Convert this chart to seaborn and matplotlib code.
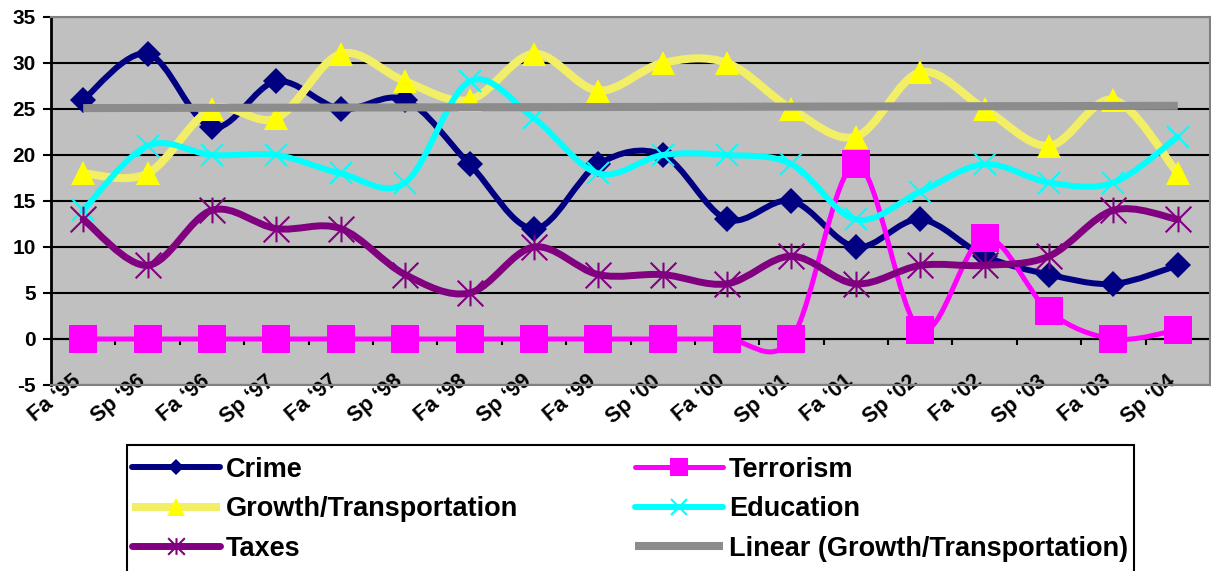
import numpy as np
import matplotlib
matplotlib.use("Agg")
import matplotlib.pyplot as plt
import seaborn as sns
from matplotlib.path import Path
from matplotlib.patches import PathPatch, Rectangle
from matplotlib.lines import Line2D
import matplotlib.transforms as mtransforms

# ---------------- data ----------------
categories = ["Fa \u201895", "Sp \u201896", "Fa \u201896", "Sp \u201897", "Fa \u201897", "Sp \u201898",
              "Fa \u201898", "Sp \u201899", "Fa \u201899", "Sp \u201800", "Fa \u201800", "Sp \u201801",
              "Fa \u201801", "Sp \u201802", "Fa \u201802", "Sp \u201803", "Fa \u201803", "Sp \u201804"]
crime = [26, 31, 23, 28, 25, 26, 19, 12, 19, 20, 13, 15, 10, 13, 9, 7, 6, 8]
terrorism = [0, 0, 0, 0, 0, 0, 0, 0, 0, 0, 0, 0, 19, 1, 11, 3, 0, 1]
growth = [18, 18, 25, 24, 31, 28, 26, 31, 27, 30, 30, 25, 22, 29, 25, 21, 26, 18]
education = [14, 21, 20, 20, 18, 17, 28, 24, 18, 20, 20, 19, 13, 16, 19, 17, 17, 22]
taxes = [13, 8, 14, 12, 12, 7, 5, 10, 7, 7, 6, 9, 6, 8, 8, 9, 14, 13]
y_ticks = [-5, 0, 5, 10, 15, 20, 25, 30, 35]
series_names = ["Crime", "Terrorism", "Growth/Transportation", "Education", "Taxes"]
trend_name = "Linear (Growth/Transportation)"

# ---------------- style ----------------
sns.set_theme(style="white")
plt.rcParams["font.family"] = ["Liberation Sans", "DejaVu Sans"]
plt.rcParams["font.weight"] = "bold"
plt.rcParams["axes.unicode_minus"] = False
for key in ["text.color", "axes.labelcolor", "xtick.color", "ytick.color"]:
    plt.rcParams[key] = "black"

star = Path([(0, -1), (0, 1), (-1, -1), (1, 1), (-1, 1), (1, -1)],
            [Path.MOVETO, Path.LINETO, Path.MOVETO, Path.LINETO, Path.MOVETO, Path.LINETO])

styles = {
    "Crime": dict(color="#000080", lw=4.3, marker="D", ms=13.5, mew=0, filled=True, cap="round"),
    "Terrorism": dict(color="#FF00FF", lw=3.6, marker="s", ms=19.5, mew=0, filled=True, cap="round"),
    "Growth/Transportation": dict(color="#F2EF66", mcolor="#FFFF00", lw=5.8, marker="^", ms=17.5, mew=0,
                                  filled=True, cap="butt"),
    "Education": dict(color="#00FFFF", lw=4.3, marker="x", ms=16.5, mew=1.5, filled=False, cap="round"),
    "Taxes": dict(color="#800080", lw=5.0, marker=star, ms=18.5, mew=1.5, filled=False, cap="round"),
}
legend_ms = {"Crime": 8, "Terrorism": 13, "Growth/Transportation": 13, "Education": 11, "Taxes": 12}
values = {"Crime": crime, "Terrorism": terrorism, "Growth/Transportation": growth,
          "Education": education, "Taxes": taxes}


def smooth_path(xs, ys):
    pts = np.column_stack([xs, ys]).astype(float)
    n = len(pts)
    verts = [pts[0]]
    codes = [Path.MOVETO]
    for i in range(n - 1):
        p0 = pts[i - 1] if i > 0 else pts[i]
        p1 = pts[i]
        p2 = pts[i + 1]
        p3 = pts[i + 2] if i + 2 < n else pts[i + 1]
        verts += [p1 + (p2 - p0) / 6.0, p2 - (p3 - p1) / 6.0, p2]
        codes += [Path.CURVE4] * 3
    return Path(verts, codes)


fig = plt.figure(figsize=(12.11, 5.71), dpi=100)
W, H = 1211, 571
ax = fig.add_axes([51 / W, 1 - 385 / H, (1210 - 51) / W, (385 - 17) / H])
ax.set_facecolor("#C0C0C0")

xs = np.arange(len(categories))

for k, name in enumerate(series_names):
    st = styles[name]
    z = 3 + k
    patch = PathPatch(smooth_path(xs, values[name]), facecolor="none", edgecolor=st["color"],
                      lw=st["lw"], capstyle=st["cap"], joinstyle="round", zorder=z)
    ax.add_patch(patch)
    mc = st.get("mcolor", st["color"])
    sns.lineplot(x=xs, y=values[name], ax=ax, linestyle="none", marker=st["marker"],
                 markersize=st["ms"], markerfacecolor=mc if st["filled"] else "none",
                 markeredgecolor=mc, markeredgewidth=st["mew"] if not st["filled"] else 0,
                 color=mc, zorder=z + 0.5, legend=False)

# linear trendline of Growth/Transportation
coef = np.polyfit(xs, growth, 1)
trend = np.polyval(coef, xs)
sns.lineplot(x=xs, y=trend, ax=ax, color="#8C8C8C", lw=5.8, solid_capstyle="butt",
             zorder=9, legend=False)

# axes
ax.set_xlim(-0.5, len(categories) - 0.5)
ax.set_ylim(-5, 35)
ax.set_yticks(y_ticks)
ax.set_yticklabels([str(v) for v in y_ticks], fontsize=15, fontweight="bold")
ax.set_axisbelow(True)
ax.yaxis.grid(True, color="black", lw=1.5)
ax.xaxis.grid(False)
ax.set_xlabel("")
ax.set_ylabel("")
for s in ["top", "right", "bottom"]:
    ax.spines[s].set_color("#808080")
    ax.spines[s].set_linewidth(1.5)
ax.spines["left"].set_color("black")
ax.spines["left"].set_linewidth(2)
ax.tick_params(axis="y", direction="out", length=6, width=1.5, color="black",
               pad=5, left=True)
ax.set_xticks(xs)
ax.set_xticklabels(categories, rotation=40, ha="right", va="center",
                   rotation_mode="anchor", fontsize=15.5, fontweight="bold")
ax.tick_params(axis="x", length=0, pad=-4.5, bottom=True)
offset = mtransforms.ScaledTranslation(-3.6 / 72, 0, fig.dpi_scale_trans)
for lab in ax.get_xticklabels():
    lab.set_transform(lab.get_transform() + offset)

# category axis crossing at y = 0 with boundary ticks
sec = ax.secondary_xaxis(0.125)
sec.set_xticks(np.arange(0.5, len(categories) - 1, 1.0))
sec.set_xticklabels([])
sec.tick_params(axis="x", direction="out", length=4, width=1.5, color="black")
sec.spines["bottom"].set_color("black")
sec.spines["bottom"].set_linewidth(1.5)

# legend
handles = {}
for name in series_names:
    st = styles[name]
    mc = st.get("mcolor", st["color"])
    handles[name] = Line2D([], [], color=st["color"], lw=st["lw"], marker=st["marker"],
                           markersize=legend_ms[name],
                           markerfacecolor=mc if st["filled"] else "none",
                           markeredgecolor=mc, markeredgewidth=st["mew"] if not st["filled"] else 0,
                           solid_capstyle=st["cap"])
handles[trend_name] = Line2D([], [], color="#8C8C8C", lw=5.8, solid_capstyle="butt")
order = ["Crime", "Growth/Transportation", "Taxes", "Terrorism", "Education", trend_name]
fig.legend([handles[n] for n in order], order, loc="upper left",
           bbox_to_anchor=(118.5 / W, 1 - 443 / H), bbox_transform=fig.transFigure,
           ncol=2, frameon=False, prop=dict(family="Liberation Sans", weight="bold", size=19.5),
           handlelength=3.25, handletextpad=0.22, columnspacing=4.3, borderpad=0.5,
           labelspacing=0.5, numpoints=1, borderaxespad=0)
fig.add_artist(Rectangle((127 / W, -0.02), (1134 - 127) / W, (571 - 445) / H + 0.02,
                         transform=fig.transFigure, fill=False, edgecolor="black", linewidth=1.5))

fig.savefig("out.png", dpi=100, facecolor="white")
